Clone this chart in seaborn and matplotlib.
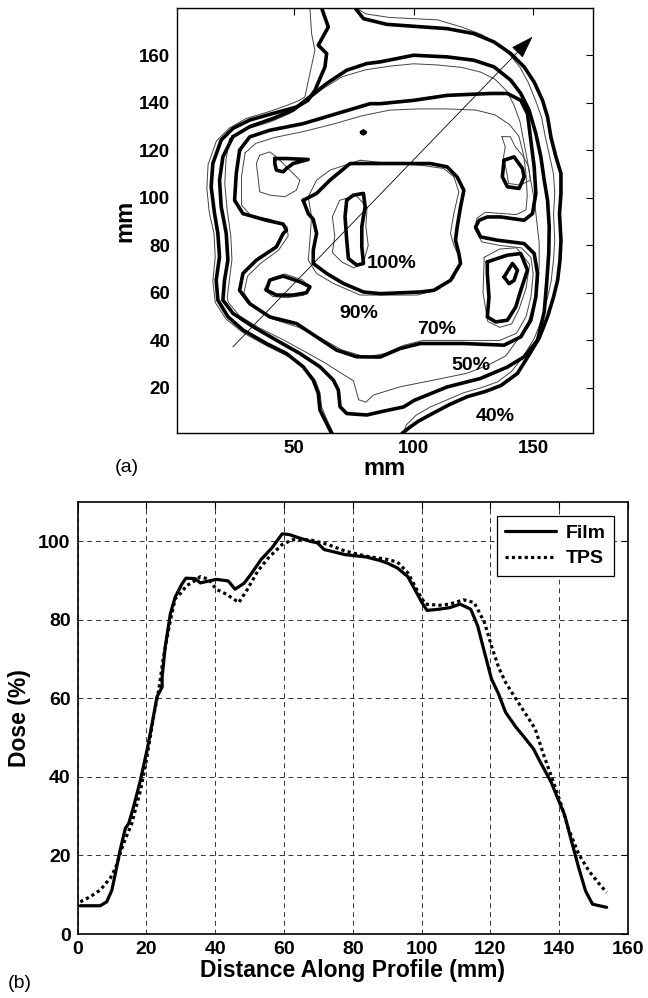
import numpy as np
import pandas as pd
import matplotlib
matplotlib.use("Agg")
import matplotlib.pyplot as plt
import seaborn as sns

# ---------------- (b) profile data ----------------
film_x = [0.8, 6.6, 8.5, 10.0, 11.0, 12.4, 13.9, 14.9, 16.3, 18.3, 20.2, 21.7, 23.1, 24.6, 24.6, 25.5, 27.0, 28.4,
          30.4, 31.5, 34.2, 35.7, 40.3, 43.8, 45.8, 48.4, 50.4, 53.4, 56.5, 59.5, 61.6, 64.6, 67.6, 69.7, 71.7,
          77.8, 83.9, 87.9, 89.9, 93.0, 96.0, 98.0, 100.1, 101.6, 105.1, 108.2, 111.2, 114.3, 116.3, 118.3, 120.3,
          122.4, 124.4, 127.4, 129.4, 132.5, 134.5, 137.6, 139.6, 141.6, 143.6, 145.7, 147.7, 149.7, 151.7, 153.8]
film_y = [7.2, 7.2, 8.2, 11.2, 15.4, 21.4, 26.9, 28.2, 32.4, 39.2, 46.8, 53.6, 60.4, 62.9, 65.5, 73.1, 81.6, 85.8,
          89.2, 90.6, 90.5, 89.4, 90.3, 89.9, 87.8, 89.3, 91.6, 95.4, 98.3, 101.9, 101.7, 100.8, 100.0, 99.6, 97.9,
          96.6, 96.0, 95.1, 94.5, 93.2, 91.0, 87.8, 84.4, 82.4, 82.7, 83.1, 84.0, 82.7, 78.5, 71.7, 65.0,
          61.1, 56.5, 52.7, 50.6, 47.2, 43.8, 38.8, 34.5, 30.3, 23.6, 16.8, 10.9, 7.6, 7.2, 6.8]
tps_x = [0.8, 3.7, 6.6, 9.5, 11.0, 13.4, 15.8, 18.3, 20.2, 22.1, 23.6, 25.0, 27.0, 28.4, 29.9, 31.8, 33.2, 35.7,
         38.2, 40.3, 43.3, 46.9, 49.4, 52.4, 55.5, 59.5, 62.6, 67.6, 72.7, 77.8, 83.9, 89.9, 93.0, 96.0, 99.1,
         101.1, 105.1, 108.2, 112.2, 115.3, 118.3, 120.3, 122.4, 124.4, 127.4, 130.5, 133.0, 135.5, 138.6, 140.6,
         142.6, 145.7, 148.7, 151.7, 153.8]
tps_y = [8.2, 9.5, 11.2, 14.2, 16.7, 23.1, 28.2, 36.6, 45.1, 55.3, 62.1, 70.6, 79.9, 85.4, 86.7, 88.8, 89.4, 91.0,
         90.3, 87.8, 86.5, 84.4, 87.8, 92.4, 95.8, 99.2, 100.4, 100.4, 99.2, 97.5, 96.2, 95.4, 94.7, 92.0, 86.9,
         84.0, 83.7, 84.0, 85.1, 84.4, 79.3, 73.4, 67.9, 64.1, 59.9, 55.7, 52.3, 45.6, 38.0, 32.9,
         27.0, 20.3, 16.0, 12.7, 10.6]
profile_series = ["Film", "TPS"]
profile_xticks = [0, 20, 40, 60, 80, 100, 120, 140, 160]
profile_yticks = [0, 20, 40, 60, 80, 100]

# ---------------- (a) isodose contours (mm) ----------------
# thick = film, thin = TPS
film40a_x = [65.7, 63.6, 60.8, 60.1, 58.0, 53.8, 46.8, 38.4, 28.6, 22.3, 18.1, 17.4, 18.8, 18.1, 16.7, 15.3, 16.0,
             19.5, 24.4, 31.4, 41.2, 48.2, 51.0, 55.8, 58.7, 62.9, 63.6, 60.1, 64.3, 61.5]
film40a_y = [0.8, 5.0, 10.7, 17.7, 23.3, 28.9, 34.5, 38.7, 44.4, 50.0, 57.0, 65.4, 75.2, 85.1, 93.5, 104.7, 114.5,
             124.4, 129.3, 132.8, 135.6, 137.5, 138.3, 141.1, 145.3, 155.2, 160.8, 164.3, 172.0, 180.0]
film40b_x = [75.5, 79.0, 88.8, 100.0, 114.0, 125.2, 133.6, 140.6, 146.2, 150.4, 153.9, 156.0, 157.4, 159.5, 161.6,
             161.6, 161.0, 161.6, 161.2, 160.2, 158.5, 156.0, 152.5, 148.0, 143.4, 136.5, 130.0, 122.4, 115.0,
             108.4, 102.0, 98.6, 95.1]
film40b_y = [180.0, 175.5, 173.1, 172.3, 171.3, 169.2, 165.7, 160.8, 155.2, 148.8, 141.1, 134.1, 125.7, 117.3, 110.3,
             101.9, 93.4, 82.2, 73.8, 65.3, 58.3, 50.0, 41.0, 33.5, 26.1, 21.0, 18.5, 16.3, 13.0,
             9.5, 6.0, 3.6, 0.8]
film50_x = [24.4, 31.4, 41.2, 49.6, 56.6, 63.6, 72.0, 80.4, 86.0, 100.0, 114.0, 125.2, 133.6, 140.6, 144.8, 148.3,
            151.1, 153.2, 154.6, 156.0, 156.7, 156.5, 155.6, 154.6, 151.8, 146.2, 139.2, 128.0, 114.0, 100.3, 95.8,
            86.0, 80.4, 72.0, 69.2, 68.5, 66.4, 60.8, 52.4, 42.6, 32.8, 24.4, 20.2, 20.9, 22.3, 21.6, 19.5, 18.8,
            20.2, 24.4]
film50_y = [125.8, 130.0, 133.5, 137.0, 142.6, 148.2, 153.8, 156.6, 157.3, 160.1, 159.4, 158.0, 155.2, 149.6, 144.0,
            136.9, 127.1, 117.3, 107.5, 99.0, 87.8, 76.6, 64.0, 52.0, 40.1, 33.1, 28.8, 24.0, 20.4, 14.8, 12.0,
            9.9, 8.6, 9.2, 12.1, 19.1, 23.3, 28.9, 34.5, 40.1, 45.8, 51.4, 57.0, 65.4, 73.8, 85.1, 96.3, 107.5,
            117.3, 125.8]
film70_x = [27.2, 31.4, 39.8, 53.8, 67.8, 81.8, 86.0, 100.0, 114.0, 132.2, 139.2, 144.8, 147.6, 149.0, 150.4,
            151.1, 149.7, 146.2, 136.4, 130.8, 127.4, 125.9, 128.0, 135.0, 146.2, 150.4, 151.8, 151.1, 149.0,
            144.8, 137.8, 120.9, 102.8, 94.4, 86.0, 76.2, 67.8, 59.4, 51.0, 39.8, 31.4, 27.2, 28.6, 34.2, 42.6,
            45.4, 46.8, 45.4, 38.4, 28.6, 25.1, 25.8, 27.2]
film70_y = [120.1, 125.7, 128.5, 131.3, 135.5, 139.7, 139.7, 141.1, 143.2, 144.0, 144.0, 141.1, 135.5, 124.3, 113.1,
            101.9, 93.4, 90.6, 92.0, 92.0, 90.6, 87.8, 83.6, 82.2, 80.8, 76.6, 68.2, 58.3, 48.5,
            41.5, 38.0, 38.7, 38.7, 36.6, 33.0, 33.1, 35.9, 41.5, 47.1, 49.9, 55.5, 61.1, 68.2, 73.8, 79.4,
            85.0, 86.4, 89.0, 90.6, 93.4, 99.0, 110.3, 120.1]
film90_x = [53.8, 59.4, 65.0, 73.4, 86.0, 95.8, 107.0, 114.0, 118.2, 121.0, 119.6, 118.2, 117.5, 118.9, 119.6,
            115.4, 108.4, 102.8, 86.0, 79.0, 70.6, 63.6, 58.0, 58.0, 59.4, 58.0, 55.9, 53.8]
film90_y = [99.0, 101.9, 107.5, 114.5, 114.5, 114.5, 114.5, 113.1, 108.8, 103.2, 96.2, 87.8, 82.2, 76.6, 72.4,
            65.3, 61.1, 60.4, 59.7, 60.4, 64.0, 68.2, 72.4, 78.0, 85.1, 91.0, 93.4, 99.0]
film100_x = [72.0, 74.8, 79.0, 79.7, 78.3, 78.3, 79.0, 76.2, 72.7, 72.0, 71.3, 72.0]
film100_y = [99.1, 101.2, 101.9, 96.3, 87.9, 79.5, 72.4, 71.7, 74.5, 82.2, 92.1, 99.1]
isl_ul_x = [41.9, 46.8, 55.9, 49.6, 46.8, 45.4, 42.6, 41.9, 41.9]
isl_ul_y = [116.6, 116.6, 116.2, 114.5, 112.4, 111.0, 111.7, 114.5, 116.6]
isl_ll_x = [38.4, 39.8, 45.4, 52.4, 56.6, 55.2, 49.6, 42.6, 38.4]
isl_ll_y = [61.2, 65.4, 67.1, 64.7, 62.6, 60.1, 59.1, 59.1, 61.2]
isl_ur_x = [137.8, 142.0, 145.5, 146.2, 144.1, 139.2, 137.1, 137.8]
isl_ur_y = [115.9, 117.3, 112.4, 108.9, 104.0, 104.7, 108.9, 115.9]
isl_lr_x = [130.8, 139.2, 144.8, 147.6, 144.8, 142.7, 139.2, 134.3, 130.8, 131.5, 130.8, 130.8]
isl_lr_y = [73.1, 75.9, 76.6, 69.6, 61.1, 54.1, 48.5, 47.8, 49.9, 58.3, 68.2, 73.1]
isl_in_x = [137.8, 141.3, 143.4, 142.0, 139.9, 137.8]
isl_in_y = [66.7, 72.4, 69.6, 65.3, 63.9, 66.7]
dot_x = [78.2, 79.0, 79.8, 79.0, 78.2]
dot_y = [127.6, 128.2, 127.6, 127.0, 127.6]

tps40a_x = [66.5, 64.0, 61.5, 60.8, 59.0, 55.0, 48.0, 39.0, 29.0, 21.5, 17.0, 16.0, 17.0, 16.5, 14.5, 13.5, 14.0,
            17.5, 23.0, 30.0, 40.0, 47.0, 52.0, 54.5, 56.6, 58.7, 57.3, 56.6]
tps40a_y = [0.8, 6.0, 12.0, 18.0, 23.0, 27.5, 33.0, 37.5, 43.0, 49.0, 56.0, 65.0, 75.0, 85.0, 94.0, 104.0, 114.0,
            124.0, 129.5, 133.5, 136.5, 139.0, 141.0, 142.5, 152.4, 162.2, 169.2, 180.0]
tps40b_x = [76.0, 80.0, 90.0, 100.0, 110.0, 120.0, 128.0, 135.0, 140.0, 144.5, 148.0, 151.0, 153.5, 155.0, 157.0,
            158.5, 159.0, 158.5, 159.0, 158.5, 157.5, 156.0, 154.0, 150.5, 146.0, 141.0, 135.0, 128.0, 121.0,
            114.0, 107.0, 101.0, 97.0, 95.5]
tps40b_y = [180.0, 177.5, 176.0, 175.5, 175.0, 172.0, 169.0, 165.0, 160.5, 155.0, 148.5, 141.0, 134.0, 126.0, 117.0,
            110.0, 102.0, 93.0, 82.0, 74.0, 65.0, 58.0, 50.0, 41.0, 33.5, 27.0, 22.5, 20.0, 18.0,
            15.0, 12.0, 8.5, 4.5, 0.8]
tps50_x = [23.0, 30.0, 40.0, 48.0, 55.0, 62.0, 70.0, 80.0, 90.0, 100.0, 110.0, 120.0, 128.0, 134.0, 139.0, 142.0,
           144.5, 146.0, 147.5, 149.0, 150.5, 151.5, 152.5, 152.5, 152.0, 150.5, 148.0, 144.0, 138.5, 131.0, 122.0,
           108.4, 94.4, 83.2, 80.0, 77.0, 74.8, 70.0, 63.0, 55.0, 45.0, 35.0, 27.0, 22.5, 22.0, 23.0, 24.0, 23.5,
           22.0, 21.0, 21.5, 23.0]
tps50_y = [125.0, 129.0, 132.0, 135.5, 140.5, 146.0, 151.0, 154.0, 155.5, 156.5, 156.0, 155.0, 153.0, 150.0, 145.0,
           139.0, 132.0, 124.0, 116.0, 107.0, 99.0, 90.0, 81.0, 72.0, 64.0, 56.0, 48.0, 41.0, 33.5, 29.5, 26.1,
           23.3, 20.5, 17.0, 14.0, 15.0, 23.0, 26.0, 30.5, 35.0, 40.5, 45.5, 50.5, 56.0, 58.0, 66.0, 74.0, 84.0,
           95.0, 106.0, 116.0, 125.0]
tps70_x = [29.5, 34.0, 42.0, 54.0, 66.0, 78.0, 90.0, 102.0, 114.0, 126.0, 134.0, 140.0, 144.0, 146.0, 147.0,
           147.5, 147.0, 143.0, 136.0, 130.0, 126.5, 125.5, 128.5, 136.0, 145.0, 149.0, 150.0, 149.0, 147.0,
           143.0, 136.0, 122.0, 104.0, 96.0, 88.0, 80.0, 70.0, 61.0, 52.0, 41.0, 33.0, 29.0, 30.5, 36.0, 43.5,
           47.5, 47.0, 40.0, 32.0, 28.0, 28.0, 29.5]
tps70_y = [119.0, 123.0, 125.5, 128.0, 131.0, 134.5, 137.0, 137.5, 137.5, 137.0, 135.0, 131.0, 126.0, 118.0, 110.0,
           101.0, 95.0, 93.0, 93.5, 94.0, 91.5, 87.0, 81.5, 80.0, 79.0, 75.0, 68.0, 58.0, 50.0,
           43.0, 40.0, 40.0, 40.0, 38.0, 34.5, 33.0, 36.0, 41.0, 45.5, 49.0, 54.0, 60.0, 67.0, 72.5, 78.0,
           84.0, 88.0, 91.0, 92.5, 97.0, 109.0, 119.0]
tps90_x = [77.6, 65.0, 59.4, 55.9, 57.3, 56.6, 55.9, 59.4, 66.4, 77.6, 88.8, 101.4, 109.8, 116.8, 119.6, 116.8,
           115.4, 116.8, 118.9, 116.8, 112.6, 102.8, 90.2, 77.6]
tps90_y = [115.9, 111.7, 107.5, 100.5, 92.1, 82.2, 73.8, 68.2, 64.0, 59.1, 59.1, 59.1, 61.2, 66.1, 73.8, 80.1,
           85.1, 93.5, 102.6, 108.9, 112.4, 113.8, 114.5, 115.9]
tps90ul_x = [35.6, 39.8, 42.6, 46.8, 52.4, 51.0, 46.1, 39.8, 35.6, 34.9, 34.2, 35.6]
tps90ul_y = [118.0, 119.4, 117.3, 113.1, 107.5, 103.3, 100.5, 101.2, 102.6, 108.9, 114.5, 118.0]
tps90ur_x = [136.9, 138.3, 137.6, 139.0, 139.7, 144.6, 148.8, 148.1, 146.0, 142.5, 140.4, 136.9]
tps90ur_y = [125.8, 121.5, 117.3, 110.3, 106.1, 105.4, 107.5, 113.1, 117.3, 121.5, 125.8, 125.8]
tps90lr_x = [129.5, 136.0, 143.0, 148.5, 147.0, 144.0, 141.0, 136.0, 131.0, 129.0, 129.5]
tps90lr_y = [75.0, 78.5, 79.0, 72.0, 62.0, 53.0, 47.0, 45.5, 48.0, 60.0, 75.0]
tps90ll_x = [37.5, 40.0, 46.0, 53.5, 57.0, 54.0, 47.0, 41.0, 37.5]
tps90ll_y = [61.5, 66.0, 68.0, 65.5, 62.0, 59.0, 58.0, 58.5, 61.5]
tps100_x = [66.0, 69.0, 76.0, 80.5, 80.0, 81.0, 79.0, 75.0, 70.0, 66.0, 67.0, 66.0]
tps100_y = [92.0, 99.0, 101.0, 96.0, 88.0, 80.0, 73.0, 70.5, 73.0, 77.0, 84.0, 92.0]

profile_arrow_start = (24.4, 37.3)
profile_arrow_end = (149.7, 167.9)
iso_labels = ["100%", "90%", "70%", "50%", "40%"]
iso_label_x = [90.9, 76.9, 109.8, 123.8, 134.3]
iso_label_y = [72.4, 51.4, 44.4, 29.6, 7.9]
map_xticks = [50, 100, 150]
map_yticks = [20, 40, 60, 80, 100, 120, 140, 160]

# ---------------- figure ----------------
sns.set_theme(style="white")
plt.rcParams["font.family"] = ["Liberation Sans", "DejaVu Sans"]
plt.rcParams["font.weight"] = "bold"
plt.rcParams.update({"text.color": "black", "axes.labelcolor": "black",
                     "xtick.color": "black", "ytick.color": "black"})

fig = plt.figure(figsize=(6.48, 9.98), dpi=100)
ax1 = fig.add_axes([0.2731, 0.5661, 0.6420, 0.4259])
ax2 = fig.add_axes([0.1196, 0.0641, 0.8495, 0.4329])

thick = dict(color="black", lw=2.6, sort=False, estimator=None, legend=False)
thin = dict(color="#444444", lw=0.7, sort=False, estimator=None, legend=False)

for xs, ys in [(tps40a_x, tps40a_y), (tps40b_x, tps40b_y), (tps50_x, tps50_y), (tps70_x, tps70_y),
               (tps90_x, tps90_y), (tps90ul_x, tps90ul_y), (tps90ur_x, tps90ur_y), (tps90lr_x, tps90lr_y),
               (tps90ll_x, tps90ll_y), (tps100_x, tps100_y)]:
    sns.lineplot(x=xs, y=ys, ax=ax1, **thin)
for xs, ys in [(film40a_x, film40a_y), (film40b_x, film40b_y), (film50_x, film50_y), (film70_x, film70_y),
               (film90_x, film90_y), (film100_x, film100_y), (isl_ul_x, isl_ul_y), (isl_ll_x, isl_ll_y),
               (isl_ur_x, isl_ur_y), (isl_lr_x, isl_lr_y), (isl_in_x, isl_in_y), (dot_x, dot_y)]:
    sns.lineplot(x=xs, y=ys, ax=ax1, **thick)

ax1.annotate("", xy=profile_arrow_end, xytext=profile_arrow_start,
             arrowprops=dict(arrowstyle="-|>,head_length=0.9,head_width=0.3", lw=0.6, color="black",
                             mutation_scale=16, shrinkA=0, shrinkB=0))
for t, x, y in zip(iso_labels, iso_label_x, iso_label_y):
    ax1.text(x, y, t, ha="center", va="center", fontsize=14, fontweight="bold", color="black")

ax1.set_xlim(1, 175)
ax1.set_ylim(1, 180)
ax1.set_xticks(map_xticks)
ax1.set_yticks(map_yticks)
ax1.set_xlabel("mm", fontsize=17, fontweight="bold", labelpad=0)
ax1.set_ylabel("mm", fontsize=17, fontweight="bold", labelpad=2)
ax1.tick_params(direction="in", length=5, width=0.8, top=True, right=True, labelsize=13.5, pad=5)
for s in ax1.spines.values():
    s.set_color("black")
    s.set_linewidth(1.0)

# ---------------- (b) ----------------
sns.lineplot(x=film_x, y=film_y, ax=ax2, color="black", lw=2.3, sort=False, estimator=None, label=profile_series[0])
sns.lineplot(x=tps_x, y=tps_y, ax=ax2, color="black", lw=2.3, sort=False, estimator=None, label=profile_series[1])
ax2.lines[1].set_linestyle((0, (1, 1)))

ax2.set_xlim(0, 160)
ax2.set_ylim(0, 110)
ax2.set_xticks(profile_xticks)
ax2.set_yticks(profile_yticks)
ax2.grid(True, color="#333333", linestyle=(0, (5, 4)), linewidth=0.7)
ax2.set_axisbelow(True)
ax2.set_xlabel("Distance Along Profile (mm)", fontsize=16.5, fontweight="bold", labelpad=1)
ax2.set_ylabel("Dose (%)", fontsize=16.5, fontweight="bold", labelpad=5)
ax2.tick_params(direction="in", length=5, width=0.8, top=True, right=True, labelsize=14, pad=5)
for s in ax2.spines.values():
    s.set_color("black")
    s.set_linewidth(1.2)
leg = ax2.legend(loc="upper right", fontsize=14, handlelength=2.6, fancybox=False, framealpha=1,
                 edgecolor="black", borderaxespad=0.7, handletextpad=0.5, borderpad=0.45, labelspacing=0.4)
leg.get_frame().set_linewidth(0.9)
for t in leg.get_texts():
    t.set_fontweight("bold")
    t.set_color("black")

fig.text(127 / 648, 1 - 467 / 998, "(a)", fontsize=14, fontweight="normal", ha="center", va="center")
fig.text(20 / 648, 1 - 984 / 998, "(b)", fontsize=14, fontweight="normal", ha="center", va="center")

fig.savefig("out.png", dpi=100)
